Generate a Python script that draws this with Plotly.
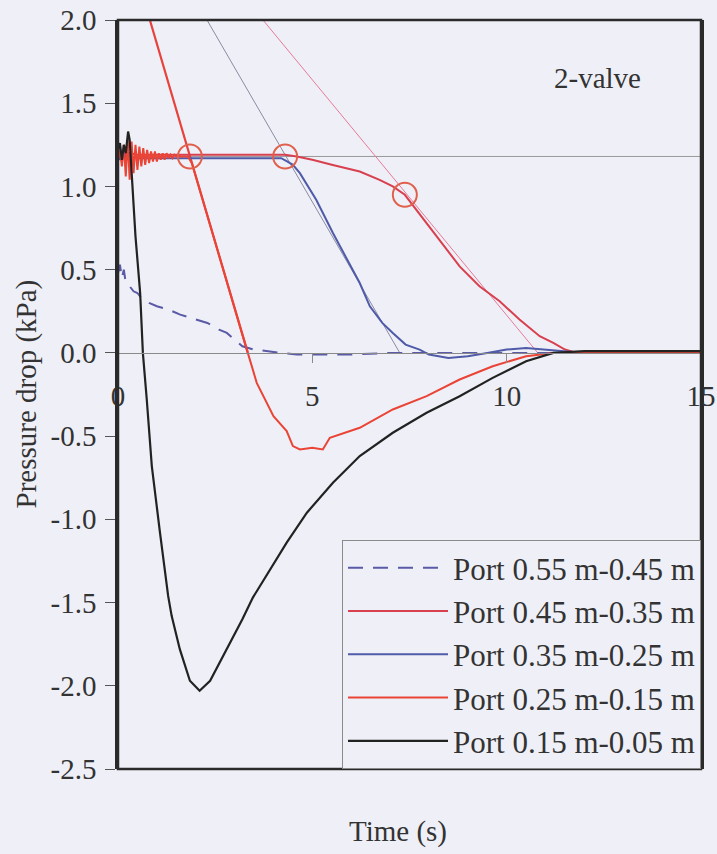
import plotly.graph_objects as go

# ---------------- data ----------------
t_055 = [0.0, 0.05, 0.1, 0.15, 0.2, 0.3, 0.4, 0.5, 0.6, 0.8, 1.0, 1.3, 1.6, 2.0, 2.3, 2.6, 2.8, 3.0,
         3.2, 3.5, 3.8, 4.2, 4.6, 5.0, 5.5, 6.0, 7.0, 8.0, 9.0, 10.0, 11.0, 12.0, 13.0, 14.0, 15.0]
p_055 = [0.48, 0.53, 0.45, 0.50, 0.42, 0.40, 0.37, 0.36, 0.33, 0.30, 0.28, 0.26, 0.23, 0.20, 0.18, 0.14, 0.12, 0.08,
         0.04, 0.02, 0.01, 0.0, -0.01, -0.01, -0.01, -0.01, 0.0, 0.0, 0.0, 0.0, 0.0, 0.0, 0.0, 0.0, 0.0]

t_045 = [0.0, 0.05, 0.1, 0.15, 0.2, 0.3, 0.5, 1.0, 1.5, 2.0, 2.5, 3.0, 3.5, 4.0, 4.3, 4.6, 5.0, 5.5, 6.0,
         6.22, 6.73, 7.07, 7.38, 7.8, 8.3, 8.79, 9.3, 9.82, 10.33, 10.85, 11.2, 11.5, 11.8, 12.5, 13.0, 14.0, 15.0]
p_045 = [1.17, 1.21, 1.15, 1.22, 1.17, 1.20, 1.19, 1.19, 1.19, 1.19, 1.19, 1.19, 1.19, 1.19, 1.19, 1.18, 1.16, 1.13, 1.10,
         1.09, 1.04, 1.00, 0.95, 0.82, 0.67, 0.52, 0.40, 0.31, 0.20, 0.10, 0.06, 0.02, 0.0, 0.0, 0.0, 0.0, 0.0]

t_035 = [0.0, 0.05, 0.1, 0.15, 0.2, 0.3, 0.5, 1.0, 1.5, 2.0, 2.5, 3.0, 3.5, 4.0, 4.2, 4.35, 4.5, 4.68, 5.1, 5.53,
         6.0, 6.22, 6.48, 6.8, 7.07, 7.4, 7.76, 8.0, 8.5, 9.0, 9.5, 10.0, 10.5, 11.0, 11.5, 12.0, 13.0, 14.0, 15.0]
p_035 = [1.18, 1.16, 1.20, 1.17, 1.19, 1.18, 1.17, 1.17, 1.17, 1.17, 1.17, 1.17, 1.17, 1.17, 1.17, 1.15, 1.13, 1.08, 0.92, 0.72,
         0.52, 0.42, 0.28, 0.18, 0.12, 0.05, 0.02, -0.01, -0.03, -0.02, 0.0, 0.02, 0.03, 0.02, 0.01, 0.0, 0.0, 0.0, 0.0]

t_025 = [0.0, 0.05, 0.1, 0.15, 0.2, 0.25, 0.3, 0.35, 0.4, 0.45, 0.5, 0.55, 0.6, 0.65, 0.7, 0.75, 0.8, 0.85,
         0.9, 0.95, 1.0, 1.05, 1.1, 1.15, 1.2, 1.25, 1.3, 1.35, 1.4, 1.45, 1.5, 1.55, 1.6, 1.7, 1.8, 1.9,
         2.0, 2.5, 3.0, 3.34, 3.57, 4.0, 4.34, 4.5, 4.68, 5.0, 5.27, 5.45, 6.22, 7.07, 7.94, 8.79, 9.64,
         10.5, 11.2, 12.0, 13.0, 14.0, 15.0]
p_025 = [1.16, 1.22, 1.12, 1.25, 1.06, 1.28, 1.04, 1.27, 1.08, 1.25, 1.10, 1.24, 1.12, 1.23, 1.13, 1.22, 1.14, 1.21,
         1.15, 1.21, 1.15, 1.20, 1.16, 1.20, 1.16, 1.20, 1.17, 1.19, 1.17, 1.19, 1.18, 1.19, 1.18, 1.18, 1.18, 1.14,
         1.06, 0.67, 0.27, 0.0, -0.18, -0.38, -0.47, -0.56, -0.58, -0.57, -0.58, -0.51, -0.45, -0.34, -0.26, -0.16, -0.08,
         -0.02, 0.0, 0.0, 0.0, 0.0, 0.0]

t_015 = [0.0, 0.05, 0.1, 0.15, 0.2, 0.26, 0.3, 0.36, 0.45, 0.57, 0.64, 0.74, 0.87, 1.08, 1.29, 1.38, 1.59, 1.85,
         2.1, 2.37, 2.8, 3.2, 3.47, 4.34, 4.86, 5.53, 6.22, 7.07, 7.94, 8.79, 9.64, 10.5, 11.2, 12.0, 13.0, 14.0, 15.0]
p_015 = [1.22, 1.26, 1.16, 1.25, 1.20, 1.33, 1.28, 1.06, 0.70, 0.36, 0.0, -0.28, -0.68, -1.08, -1.46, -1.58, -1.78, -1.97,
         -2.03, -1.97, -1.78, -1.60, -1.47, -1.14, -0.96, -0.78, -0.62, -0.48, -0.36, -0.26, -0.15, -0.05, 0.0, 0.01, 0.01, 0.01, 0.01]

# tangent / reference lines
plateau_t = [0.0, 15.0]
plateau_p = [1.18, 1.18]
tan025_t = [0.82, 3.34]
tan025_p = [2.0, 0.0]
tan035_t = [2.29, 7.25]
tan035_p = [2.0, 0.0]
tan045_t = [3.73, 10.8]
tan045_p = [2.0, 0.0]

# intersection circles
circle_t = [1.85, 4.3, 7.38]
circle_p = [1.18, 1.18, 0.95]

legend_names = ["Port 0.55 m-0.45 m", "Port 0.45 m-0.35 m", "Port 0.35 m-0.25 m",
                "Port 0.25 m-0.15 m", "Port 0.15 m-0.05 m"]

x_ticks = [0, 5, 10, 15]
y_ticks = [2.0, 1.5, 1.0, 0.5, 0.0, -0.5, -1.0, -1.5, -2.0, -2.5]
y_tick_text = ["2.0", "1.5", "1.0", "0.5", "0.0", "-0.5", "-1.0", "-1.5", "-2.0", "-2.5"]

# ---------------- figure ----------------
FONT = "Liberation Serif, Times New Roman, serif"
BG = "#eff0f7"
TXT = "#333333"

fig = go.Figure()

def ref_line(x, y, color, width):
    fig.add_trace(go.Scatter(x=x, y=y, mode="lines", line=dict(color=color, width=width),
                             showlegend=False, hoverinfo="skip"))

ref_line(plateau_t, plateau_p, "#9a9a9a", 1)
ref_line(tan035_t, tan035_p, "#8a8aa0", 1)
ref_line(tan045_t, tan045_p, "#e67a98", 1)
ref_line(tan025_t, tan025_p, "#e8423c", 2.2)

series = [
    (t_055, p_055, "#5a5aa6", 2, "15px,10px"),
    (t_045, p_045, "#d8404f", 2, "solid"),
    (t_035, p_035, "#4f5aa8", 2, "solid"),
    (t_025, p_025, "#ea4436", 2, "solid"),
    (t_015, p_015, "#222222", 2.2, "solid"),
]
for (tx, py, col, w, dash), name in zip(series, legend_names):
    fig.add_trace(go.Scatter(x=tx, y=py, mode="lines", name=name,
                             line=dict(color=col, width=w, dash=dash)))

fig.add_trace(go.Scatter(x=circle_t, y=circle_p, mode="markers", showlegend=False,
                         marker=dict(symbol="circle-open", size=24,
                                     line=dict(color="#e0604c", width=2), color="#e0604c")))

y0, y1 = -2.5, 2.0
zero_pos = (0 - y0) / (y1 - y0)

L, R, T, B = 118, 16, 20, 85
PW = 717 - L - R
PH = 854 - T - B

fig.update_layout(
    width=717, height=854,
    margin=dict(l=L, r=R, t=T, b=B, autoexpand=False),
    paper_bgcolor=BG, plot_bgcolor=BG,
    font=dict(family=FONT, size=29, color=TXT),
    xaxis=dict(range=[0, 15], anchor="free", position=zero_pos, automargin=False,
               showgrid=False, zeroline=False, showline=True, linecolor="#8a8a8a", linewidth=1,
               ticks="outside", ticklen=9, tickcolor="#8a8a8a", tickwidth=1,
               tickvals=x_ticks, ticklabelstandoff=8,
               tickfont=dict(family=FONT, size=29, color=TXT)),
    yaxis=dict(range=[y0, y1], showgrid=False, zeroline=False, automargin=False,
               showline=True, linecolor="#2a2a2a", linewidth=2.5, mirror=True,
               ticks="outside", ticklen=10, tickcolor="#555555", tickwidth=1,
               tickvals=y_ticks, ticktext=y_tick_text, ticklabelstandoff=3,
               tickfont=dict(family=FONT, size=29, color=TXT)),
    legend=dict(x=1.0, y=0.0, xanchor="right", yanchor="bottom",
                bgcolor=BG, bordercolor="#8a8a8a", borderwidth=1,
                font=dict(family=FONT, size=31, color=TXT),
                itemwidth=100, tracegroupgap=0),
    showlegend=True,
    shapes=[dict(type="rect", xref="paper", yref="paper", x0=0, x1=1, y0=0, y1=1,
                 line=dict(color="#2a2a2a", width=2.5), layer="above")],
    annotations=[
        dict(text="2-valve", xref="paper", yref="paper",
             x=(597 - L) / PW, y=(854 - B - 78) / PH, xanchor="center", yanchor="middle",
             showarrow=False, font=dict(family=FONT, size=29, color=TXT)),
        dict(text="Time (s)", xref="paper", yref="paper",
             x=(398 - L) / PW, y=(854 - B - 832) / PH, xanchor="center", yanchor="middle",
             showarrow=False, font=dict(family=FONT, size=29, color=TXT)),
        dict(text="Pressure drop (kPa)", xref="paper", yref="paper",
             x=(26 - L) / PW, y=0.5, xanchor="center", yanchor="middle",
             textangle=-90, showarrow=False, font=dict(family=FONT, size=29, color=TXT)),
    ],
)

fig.write_html("out.html")
